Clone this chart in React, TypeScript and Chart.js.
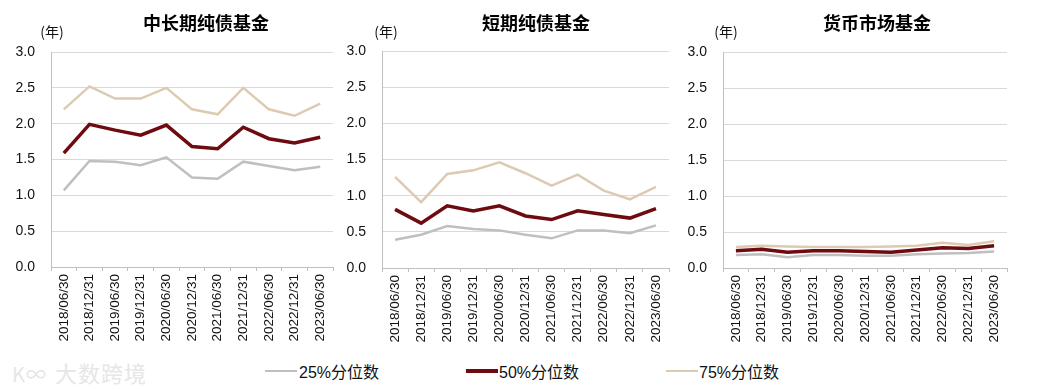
import React, { useEffect, useRef } from 'react';
import { Chart, registerables } from 'chart.js';

Chart.register(...registerables);

const categories = [
  '2018/06/30', '2018/12/31', '2019/06/30', '2019/12/31', '2020/06/30', '2020/12/31',
  '2021/06/30', '2021/12/31', '2022/06/30', '2022/12/31', '2023/06/30',
];

const seriesNames = ['25%分位数', '50%分位数', '75%分位数'];

const longP25 = [1.07, 1.48, 1.47, 1.42, 1.53, 1.25, 1.23, 1.47, 1.41, 1.35, 1.40];
const longP50 = [1.59, 1.99, 1.91, 1.84, 1.98, 1.68, 1.65, 1.95, 1.79, 1.73, 1.81];
const longP75 = [2.2, 2.52, 2.35, 2.35, 2.5, 2.2, 2.13, 2.5, 2.2, 2.11, 2.28];

const shortP25 = [0.39, 0.46, 0.58, 0.54, 0.52, 0.46, 0.41, 0.52, 0.52, 0.48, 0.59];
const shortP50 = [0.81, 0.62, 0.86, 0.79, 0.86, 0.72, 0.67, 0.79, 0.74, 0.69, 0.82];
const shortP75 = [1.26, 0.91, 1.30, 1.35, 1.46, 1.31, 1.14, 1.29, 1.07, 0.95, 1.12];

const moneyP25 = [0.18, 0.19, 0.15, 0.18, 0.18, 0.17, 0.17, 0.19, 0.20, 0.21, 0.23];
const moneyP50 = [0.24, 0.26, 0.22, 0.24, 0.24, 0.23, 0.22, 0.25, 0.28, 0.27, 0.31];
const moneyP75 = [0.29, 0.31, 0.30, 0.29, 0.29, 0.29, 0.30, 0.31, 0.35, 0.32, 0.37];

const titles = ['中长期纯债基金', '短期纯债基金', '货币市场基金'];
const unitLabel = '(年)';

const COLORS = ['#BFBFBF', '#6E0B10', '#DDCAB2'];
const WIDTHS = [2.5, 3.5, 2.5];
const FONT = "'Liberation Sans', Arial, 'Noto Sans CJK SC', sans-serif";
const CJK = "'Noto Sans CJK SC', 'Liberation Sans', sans-serif";
const LEGEND_FONT = "'Liberation Sans', 'Noto Sans CJK SC', sans-serif";

const H = 355;

type PanelProps = {
  data: number[][];
  left: number;
  width: number;
  area: { l: number; r: number; t: number; b: number };
};

function Panel({ data, left, width, area }: PanelProps) {
  const ref = useRef<HTMLCanvasElement | null>(null);
  useEffect(() => {
    if (!ref.current) return;
    const chart = new Chart(ref.current, {
      type: 'line',
      data: {
        labels: categories,
        datasets: data.map((d, i) => ({
          label: seriesNames[i],
          data: d,
          borderColor: COLORS[i],
          backgroundColor: COLORS[i],
          borderWidth: WIDTHS[i],
          pointRadius: 0,
          tension: 0,
          fill: false,
          order: i === 1 ? 0 : i === 0 ? 2 : 1,
        })),
      },
      options: {
        responsive: false,
        animation: false,
        layout: { padding: { left: 0, top: area.t, right: width - (area.r - left), bottom: 0 } },
        plugins: { legend: { display: false }, tooltip: { enabled: false }, title: { display: false } },
        scales: {
          x: {
            offset: true,
            grid: { drawOnChartArea: false, drawTicks: true, tickLength: 4, color: '#BFBFBF', offset: true },
            border: { color: '#BFBFBF', width: 1 },
            ticks: {
              minRotation: 90,
              maxRotation: 90,
              autoSkip: false,
              padding: 3,
              color: '#111',
              font: { size: 13.5, family: FONT },
            },
            afterFit: (scale: any) => {
              scale.height = H - area.b;
            },
          },
          y: {
            min: 0,
            max: 3,
            ticks: {
              stepSize: 0.5,
              padding: 16,
              color: '#111',
              font: { size: 14, family: FONT },
              callback: (v: any) => Number(v).toFixed(1),
            },
            grid: { drawTicks: false, color: '#D9D9D9', lineWidth: 1 },
            border: { color: '#BFBFBF', width: 1 },
            afterFit: (scale: any) => {
              scale.width = area.l - left;
            },
          },
        },
      },
    } as any);
    return () => chart.destroy();
  }, []);
  return (
    <div style={{ position: 'absolute', left, top: 0, width, height: H }}>
      <canvas ref={ref} width={width} height={H} style={{ width, height: H, display: 'block' }} />
    </div>
  );
}

const panels = [
  { data: [longP25, longP50, longP75], left: 0, width: 345, area: { l: 51, r: 333, t: 52, b: 267 }, titleX: 206, unitX: 52 },
  { data: [shortP25, shortP50, shortP75], left: 345, width: 335, area: { l: 382, r: 669, t: 51, b: 268 }, titleX: 536, unitX: 386 },
  { data: [moneyP25, moneyP50, moneyP75], left: 680, width: 361, area: { l: 723, r: 1007, t: 52, b: 268 }, titleX: 877, unitX: 726 },
];

const legendPos = [
  { lineX: 265, textX: 299 },
  { lineX: 466, textX: 499 },
  { lineX: 666, textX: 699 },
];

export default function App() {
  return (
    <div style={{ position: 'fixed', left: 0, top: 0, width: 1041, height: 389, background: '#fff', overflow: 'hidden' }}>
      {panels.map((p, i) => (
        <React.Fragment key={i}>
          <Panel data={p.data} left={p.left} width={p.width} area={p.area} />
          <div
            style={{
              position: 'absolute', left: p.titleX, top: 22, transform: 'translate(-50%, -50%)',
              fontFamily: CJK, fontWeight: 700, fontSize: 18, color: '#000', whiteSpace: 'nowrap',
            }}
          >
            {titles[i]}
          </div>
          <div
            style={{
              position: 'absolute', left: p.unitX, top: 31, transform: 'translate(-50%, -50%)',
              fontFamily: CJK, fontSize: 14, color: '#111', whiteSpace: 'nowrap',
            }}
          >
            {unitLabel}
          </div>
        </React.Fragment>
      ))}
      {legendPos.map((lp, i) => (
        <React.Fragment key={'l' + i}>
          <div
            style={{
              position: 'absolute', left: lp.lineX, top: 371 - WIDTHS[i] / 2, width: 32, height: WIDTHS[i],
              background: COLORS[i],
            }}
          />
          <div
            style={{
              position: 'absolute', left: lp.textX, top: 371, transform: 'translateY(-50%)',
              fontFamily: LEGEND_FONT, fontSize: 16, color: '#111', whiteSpace: 'nowrap',
            }}
          >
            {seriesNames[i]}
          </div>
        </React.Fragment>
      ))}
      <div
        style={{
          position: 'absolute', left: 12, top: 372, transform: 'translateY(-50%)',
          fontFamily: CJK, fontSize: 22, color: '#E6E6E6', whiteSpace: 'nowrap', letterSpacing: 1,
        }}
      >
        <span style={{ fontSize: 20, marginRight: 8 }}>K∞</span>大数跨境
      </div>
    </div>
  );
}
